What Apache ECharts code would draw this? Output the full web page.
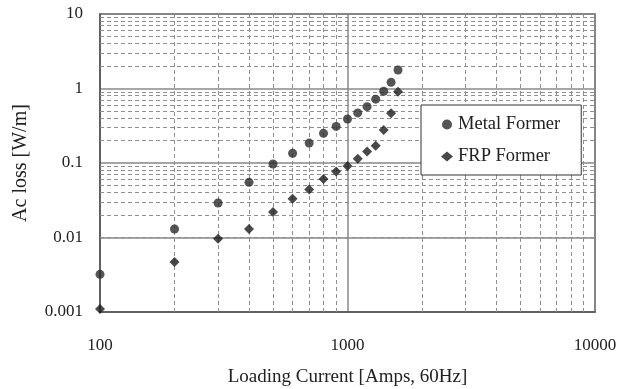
<!DOCTYPE html>
<html>
<head>
<meta charset="utf-8">
<script src="https://cdn.jsdelivr.net/npm/echarts@6/dist/echarts.min.js"></script>
<style>
  html, body { margin: 0; padding: 0; background: #fff; }
  #chart { width: 621px; height: 389px; }
</style>
</head>
<body>
<div id="chart"></div>
<script>
// Loading current (A, 60 Hz)
const current = [100, 200, 300, 400, 500, 600, 700, 800, 900, 1000, 1100, 1200, 1300, 1400, 1500, 1600];
// AC loss (W/m) per former type
const metalLoss = [0.0032, 0.013, 0.029, 0.055, 0.097, 0.135, 0.185, 0.25, 0.31, 0.39, 0.47, 0.57, 0.72, 0.92, 1.21, 1.77];
const frpLoss   = [0.0011, 0.0047, 0.0096, 0.013, 0.022, 0.033, 0.044, 0.061, 0.077, 0.091, 0.114, 0.143, 0.171, 0.277, 0.464, 0.905];

// Minor grid values (2..9 within each decade)
const minorX = [200, 300, 400, 500, 600, 700, 800, 900, 2000, 3000, 4000, 5000, 6000, 7000, 8000, 9000];
const minorY = [0.002, 0.003, 0.004, 0.005, 0.006, 0.007, 0.008, 0.009,
                0.02, 0.03, 0.04, 0.05, 0.06, 0.07, 0.08, 0.09,
                0.2, 0.3, 0.4, 0.5, 0.6, 0.7, 0.8, 0.9,
                2, 3, 4, 5, 6, 7, 8, 9];

const FONT = 'Liberation Serif';
const pairs = (ys) => current.map((x, i) => [x, ys[i]]);
const fmt = (v) => String(Number(Number(v).toPrecision(3)));

const chart = echarts.init(document.getElementById('chart'));
chart.setOption({
  animation: false,
  backgroundColor: '#fff',
  grid: {
    left: 100, right: 26, top: 14, bottom: 77,
    outerBoundsMode: 'none', containLabel: false,
    show: true, borderColor: '#555', borderWidth: 1.5, backgroundColor: 'transparent'
  },
  xAxis: {
    type: 'log', logBase: 10, min: 100, max: 10000,
    name: 'Loading Current [Amps, 60Hz]',
    nameLocation: 'middle', nameGap: 56,
    nameTextStyle: { fontFamily: FONT, fontSize: 19, color: '#222' },
    axisLine: { show: true, lineStyle: { color: '#555', width: 1.5 } },
    axisTick: { show: false },
    axisLabel: { fontFamily: FONT, fontSize: 17, color: '#222', margin: 25, formatter: fmt },
    splitLine: { show: true, lineStyle: { color: '#888', width: 1.5 } }
  },
  yAxis: {
    type: 'log', logBase: 10, min: 0.001, max: 10,
    name: 'Ac loss [W/m]',
    nameLocation: 'middle', nameGap: 69, nameRotate: 90,
    nameTextStyle: { fontFamily: FONT, fontSize: 20, color: '#222' },
    axisLine: { show: true, lineStyle: { color: '#555', width: 1.5 } },
    axisTick: { show: false },
    axisLabel: { fontFamily: FONT, fontSize: 17, color: '#222', margin: 17, formatter: fmt },
    splitLine: { show: true, lineStyle: { color: '#888', width: 1.5 } }
  },
  legend: {
    orient: 'vertical',
    left: 421, top: 105,
    padding: [10, 21, 9, 20],
    itemGap: 13,
    itemWidth: 12, itemHeight: 10,
    z: 10,
    backgroundColor: '#fff',
    borderColor: '#333', borderWidth: 1,
    textStyle: { fontFamily: FONT, fontSize: 18.5, color: '#222' },
    data: [
      { name: 'Metal Former', icon: 'circle' },
      { name: 'FRP Former', icon: 'diamond' }
    ]
  },
  series: [
    {
      // dashed minor grid
      type: 'line', data: [], silent: true, z: 1,
      markLine: {
        silent: true, symbol: 'none', label: { show: false },
        animation: false, z: 1,
        lineStyle: { color: '#8f8f8f', type: [4, 3], width: 1 },
        data: minorX.map(v => ({ xAxis: v })).concat(minorY.map(v => ({ yAxis: v })))
      }
    },
    {
      name: 'Metal Former', type: 'scatter', clip: false, z: 5,
      symbol: 'circle', symbolSize: 9,
      itemStyle: { color: '#2b2b2b' },
      data: pairs(metalLoss)
    },
    {
      name: 'FRP Former', type: 'scatter', clip: false, z: 5,
      symbol: 'diamond', symbolSize: 10,
      itemStyle: { color: '#1c1c1c' },
      data: pairs(frpLoss)
    }
  ]
});
</script>
</body>
</html>
